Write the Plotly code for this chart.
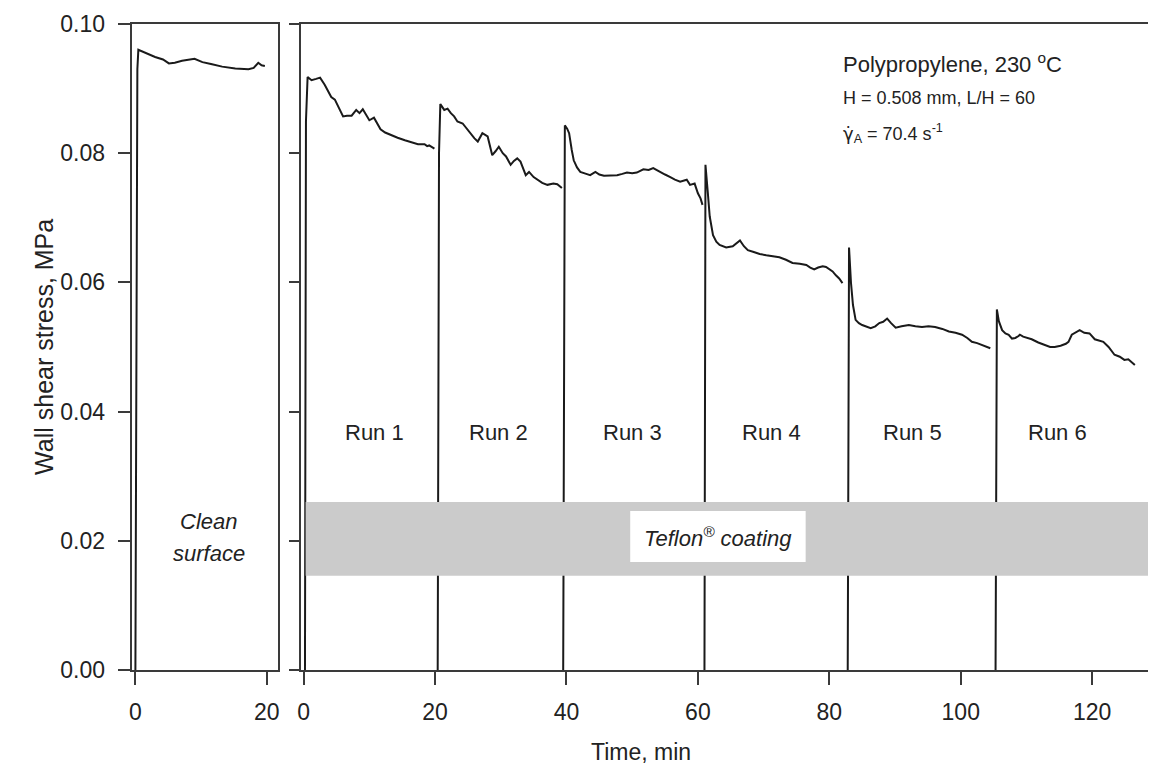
import plotly.graph_objects as go

# ---------------- data ----------------
clean_t = [0.0, 0.15, 0.3, 0.45, 1.5, 3.0, 4.2, 5.1, 6.0, 7.1, 9.0, 10.2, 11.5, 13.2, 15.2, 17.2, 18.0, 18.7, 19.2, 19.7]
clean_v = [0.0, 0.070, 0.093, 0.0960, 0.0955, 0.0949, 0.0945, 0.0939, 0.0940, 0.0943, 0.0946, 0.0941, 0.0938, 0.0934,
           0.0931, 0.0930, 0.0932, 0.0940, 0.0936, 0.0935]

run1_t = [0.2, 0.35, 0.6, 1.2, 1.9, 2.5, 3.2, 4.2, 4.75, 5.3, 6.0, 6.6, 7.3, 8.0, 8.5, 9.0, 10.0, 10.7, 11.7, 12.4,
          13.3, 14.3, 15.4, 16.4, 17.4, 18.4, 18.8, 19.1, 19.9]
run1_v = [0.0, 0.085, 0.0918, 0.0913, 0.0915, 0.0917, 0.0906, 0.0887, 0.0883, 0.0872, 0.0857, 0.0858, 0.0858, 0.0867,
          0.0862, 0.0868, 0.0851, 0.0855, 0.0837, 0.0832, 0.0828, 0.0824, 0.0820, 0.0817, 0.0814, 0.0814, 0.0811,
          0.0812, 0.0807]

run2_t = [20.4, 20.6, 20.8, 21.4, 21.9, 22.4, 22.9, 23.4, 24.2, 25.0, 25.5, 26.0, 26.5, 27.2, 28.0, 28.7, 29.2, 29.7,
          30.3, 30.8, 31.5, 32.0, 32.5, 33.0, 33.8, 34.3, 35.0, 35.6, 36.3, 37.1, 38.0, 38.6, 39.3]
run2_v = [0.0, 0.080, 0.0876, 0.0867, 0.0869, 0.0862, 0.0857, 0.0849, 0.0846, 0.0835, 0.0828, 0.0823, 0.0818, 0.0831,
          0.0826, 0.0797, 0.0803, 0.0810, 0.0800, 0.0795, 0.0782, 0.0788, 0.0792, 0.0787, 0.0766, 0.0771, 0.0763,
          0.0759, 0.0754, 0.0751, 0.0753, 0.0752, 0.0746]

run3_t = [39.5, 39.65, 39.75, 40.1, 40.4, 40.8, 41.1, 41.6, 42.1, 43.0, 43.6, 44.4, 45.0, 45.7, 46.7, 47.7, 48.5, 49.2,
          50.0, 50.7, 51.7, 52.5, 53.2, 54.2, 55.0, 55.8, 56.5, 57.3, 57.8, 58.3, 58.8, 59.5, 60.0, 60.4, 60.7]
run3_v = [0.0, 0.078, 0.0843, 0.0838, 0.0831, 0.0805, 0.0789, 0.0778, 0.0771, 0.0768, 0.0766, 0.0771, 0.0767, 0.0765,
          0.0765, 0.0766, 0.0768, 0.0770, 0.0769, 0.0770, 0.0775, 0.0774, 0.0777, 0.0771, 0.0767, 0.0763, 0.0759,
          0.0756, 0.0758, 0.0759, 0.0751, 0.0753, 0.0738, 0.0730, 0.0720]

run4_t = [61.0, 61.1, 61.15, 61.5, 61.8, 62.3, 62.8, 63.3, 64.3, 65.3, 66.0, 66.4, 67.0, 67.6, 68.5, 69.4, 70.4, 71.4,
          72.4, 73.4, 74.4, 75.5, 76.5, 77.1, 77.7, 78.3, 79.0, 79.5, 80.0, 80.5, 81.0, 81.5, 82.0]
run4_v = [0.0, 0.070, 0.0782, 0.0740, 0.0702, 0.0673, 0.0663, 0.0658, 0.0654, 0.0656, 0.0661, 0.0665, 0.0656, 0.0650,
          0.0647, 0.0644, 0.0642, 0.0641, 0.0639, 0.0635, 0.0630, 0.0629, 0.0627, 0.0623, 0.0620, 0.0623, 0.0625,
          0.0624, 0.0620, 0.0617, 0.0611, 0.0606, 0.0599]

run5_t = [82.8, 82.9, 83.0, 83.3, 83.6, 84.0, 84.5, 85.0, 86.3, 87.0, 87.6, 88.2, 88.8, 89.4, 90.1, 91.0, 92.1, 93.1,
          94.1, 95.1, 96.1, 97.2, 98.2, 99.2, 100.2, 101.0, 101.7, 102.5, 103.2, 104.5]
run5_v = [0.0, 0.060, 0.0654, 0.0599, 0.0565, 0.0542, 0.0537, 0.0534, 0.0529, 0.0532, 0.0537, 0.0539, 0.0544, 0.0537,
          0.0530, 0.0532, 0.0534, 0.0532, 0.0531, 0.0532, 0.0531, 0.0528, 0.0524, 0.0522, 0.0519, 0.0514, 0.0508,
          0.0506, 0.0503, 0.0498]

run6_t = [105.3, 105.4, 105.5, 105.8, 106.3, 106.8, 107.3, 107.8, 108.3, 108.8, 109.0, 109.5, 110.8, 111.8, 112.8,
          113.6, 114.3, 115.2, 116.0, 116.4, 116.9, 117.5, 118.1, 118.8, 119.6, 120.4, 121.0, 121.7, 122.5, 123.4,
          124.2, 124.9, 125.5, 126.0, 126.5]
run6_v = [0.0, 0.050, 0.0558, 0.0540, 0.0526, 0.0521, 0.0519, 0.0513, 0.0514, 0.0517, 0.0519, 0.0516, 0.0512, 0.0507,
          0.0503, 0.0500, 0.0500, 0.0502, 0.0505, 0.0508, 0.0519, 0.0522, 0.0526, 0.0522, 0.0521, 0.0512, 0.0510,
          0.0508, 0.0500, 0.0488, 0.0485, 0.0480, 0.0481, 0.0476, 0.0472]

runs = [(run1_t, run1_v), (run2_t, run2_v), (run3_t, run3_v), (run4_t, run4_v), (run5_t, run5_v), (run6_t, run6_v)]

run_labels = ["Run 1", "Run 2", "Run 3", "Run 4", "Run 5", "Run 6"]
run_label_x = [10.8, 29.7, 50.0, 71.2, 92.6, 114.8]
run_label_y = 0.0368

y_ticks = [0.00, 0.02, 0.04, 0.06, 0.08, 0.10]
y_ticktext = ["0.00", "0.02", "0.04", "0.06", "0.08", "0.10"]
x1_ticks = [0, 20]
x2_ticks = [0, 20, 40, 60, 80, 100, 120]

band_y = [0.0146, 0.0260]
band_x = [0.3, 128.6]
label_box_x = [49.7, 76.4]
label_box_y = [0.0167, 0.0246]

# ---------------- figure ----------------
FONT = "Liberation Sans, Arial, sans-serif"
TXT = "#222222"
LINE = "#1a1a1a"
AX = "#3a3a3a"

fig = go.Figure()
fig.add_trace(go.Scatter(x=clean_t, y=clean_v, mode="lines", line=dict(color=LINE, width=2),
                         xaxis="x", yaxis="y", showlegend=False))
for t, v in runs:
    fig.add_trace(go.Scatter(x=t, y=v, mode="lines", line=dict(color=LINE, width=2),
                             xaxis="x2", yaxis="y2", showlegend=False))

axis_common = dict(showgrid=False, zeroline=False, showline=True, linecolor=AX, linewidth=1.5,
                   ticks="outside", tickcolor=AX, tickwidth=1.5,
                   tickfont=dict(family=FONT, size=23, color=TXT))

fig.update_layout(
    width=1150, height=766,
    margin=dict(l=0, r=0, t=24, b=96),
    paper_bgcolor="white", plot_bgcolor="white",
    font=dict(family=FONT, color=TXT),
    showlegend=False,
    xaxis=dict(domain=[130 / 1150, 276 / 1150], range=[-0.45, 21.67], tickvals=x1_ticks,
               ticklen=13, mirror=True, anchor="y", ticklabelstandoff=8, **axis_common),
    yaxis=dict(domain=[0, 1], range=[0, 0.1], tickvals=y_ticks, ticktext=y_ticktext,
               ticklen=13, mirror=True, anchor="x", ticklabelstandoff=8, **axis_common),
    xaxis2=dict(domain=[299 / 1150, 1.0], range=[-0.45, 128.5], tickvals=x2_ticks,
                ticklen=13, mirror=True, anchor="y2", ticklabelstandoff=8, **axis_common),
    yaxis2=dict(domain=[0, 1], range=[0, 0.1], tickvals=y_ticks, showticklabels=False,
                ticklen=10, mirror=False, anchor="x2", **axis_common),
)

# Teflon band and label box
fig.add_shape(type="rect", xref="x2", yref="y2", x0=band_x[0], x1=band_x[1], y0=band_y[0], y1=band_y[1],
              fillcolor="#cbcbcb", line=dict(width=0), layer="above")
fig.add_shape(type="rect", xref="x2", yref="y2", x0=label_box_x[0], x1=label_box_x[1],
              y0=label_box_y[0], y1=label_box_y[1], fillcolor="white", line=dict(width=0), layer="above")

ann = []
ann.append(dict(x=sum(label_box_x) / 2, y=sum(label_box_y) / 2, xref="x2", yref="y2",
                text="<i>Teflon<sup>®</sup> coating</i>", showarrow=False,
                font=dict(family=FONT, size=22, color=TXT)))
for lab, lx in zip(run_labels, run_label_x):
    ann.append(dict(x=lx, y=run_label_y, xref="x2", yref="y2", text=lab, showarrow=False,
                    font=dict(family=FONT, size=22, color=TXT)))
ann.append(dict(x=11.2, y=0.0230, xref="x", yref="y", text="<i>Clean</i>", showarrow=False,
                font=dict(family=FONT, size=22, color=TXT)))
ann.append(dict(x=11.2, y=0.0181, xref="x", yref="y", text="<i>surface</i>", showarrow=False,
                font=dict(family=FONT, size=22, color=TXT)))
ann.append(dict(x=81.8, y=0.0940, xref="x2", yref="y2", xanchor="left", text="Polypropylene, 230 <sup>o</sup>C",
                showarrow=False, font=dict(family=FONT, size=22, color=TXT)))
ann.append(dict(x=81.8, y=0.0885, xref="x2", yref="y2", xanchor="left", text="H = 0.508 mm, L/H = 60",
                showarrow=False, font=dict(family=FONT, size=18, color=TXT)))
ann.append(dict(x=81.8, y=0.0831, xref="x2", yref="y2", xanchor="left",
                text="<span style=\"font-family:'DejaVu Sans'\">γ̇</span><sub>A</sub> = 70.4 s<sup>-1</sup>",
                showarrow=False, font=dict(family=FONT, size=18, color=TXT)))
ann.append(dict(x=25 / 1150, y=0.5, xref="paper", yref="paper", text="Wall shear stress, MPa",
                textangle=-90, showarrow=False, font=dict(family=FONT, size=25, color=TXT)))
ann.append(dict(x=641 / 1150, y=-82 / 646, xref="paper", yref="paper", text="Time, min", yanchor="middle",
                showarrow=False, font=dict(family=FONT, size=23, color=TXT)))
fig.update_layout(annotations=ann)

fig.write_html("out.html")
